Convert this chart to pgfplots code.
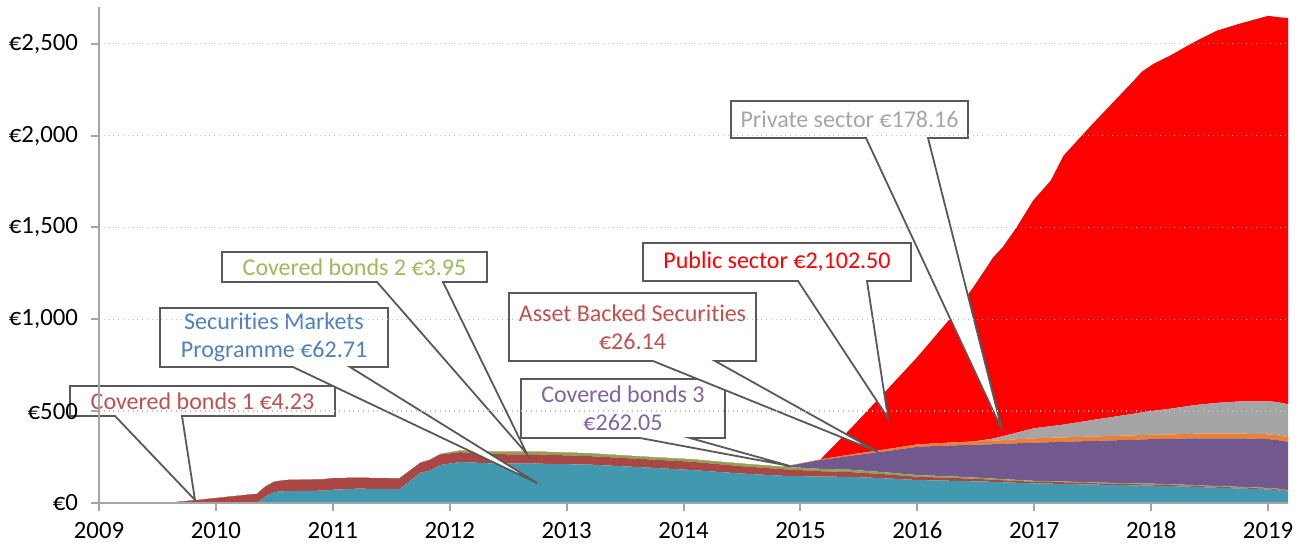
\documentclass[border=0pt]{standalone}
\usepackage{fontspec}
\setmainfont{Carlito}[Ligatures={NoCommon}]
\usepackage{pgfplots}
\pgfplotsset{compat=1.18}
\usepackage{pgfplotstable}

\definecolor{cSMP}{HTML}{4198AF}
\definecolor{cCB1}{HTML}{AA4643}
\definecolor{cCB2}{HTML}{89A54E}
\definecolor{cCB3}{HTML}{71588F}
\definecolor{cABS}{HTML}{EE8035}
\definecolor{cPriv}{HTML}{A5A5A5}
\definecolor{cPub}{HTML}{FF0000}
\definecolor{tCB1}{HTML}{C0504D}
\definecolor{tSMP}{HTML}{4F81BD}
\definecolor{tCB2}{HTML}{9BBB59}
\definecolor{tCB3}{HTML}{8064A2}
\definecolor{tPriv}{HTML}{A6A6A6}
\definecolor{bordergray}{HTML}{595959}
\definecolor{axgray}{HTML}{A6A6A6}
\definecolor{gridgray}{HTML}{BFBFBF}

\newcommand{\lblfont}{\fontsize{12}{14}\selectfont}
\newcommand{\tickfont}{\fontsize{12.4}{14}\selectfont}

\pgfplotsset{
  layers/labelsontop/.define layer set={
    axis background,axis grid,axis ticks,axis lines,pre main,main,axis tick labels,axis descriptions,axis foreground
  }{},
}

% callout in reference pixel coordinates: x-left, y-top, x-right, y-bottom, base1, base2, tipx, tipy, text
\newcommand{\callout}[9]{%
\draw[draw=bordergray, fill=white, line width=0.9pt, line join=miter]
 (#1,#2) -- (#3,#2) -- (#3,#4) -- (#6,#4) -- (#7,#8) -- (#5,#4) -- (#1,#4) -- cycle
 ({(#1+#3)/2},{(#2+#4)/2})
 node[font=\lblfont, align=center, inner sep=0pt, draw=none, fill=none] {#9};}

\pgfplotstableread{
yr smp cb1 cb2 cb3 abs cspp pspp
2009.00 0 0 0 0 0 0 0
2009.58 0 0 0 0 0 0 0
2009.84 0 16 0 0 0 0 0
2010.32 0 48 0 0 0 0 0
2010.35 0 49 0 0 0 0 0
2010.42 35 53 0 0 0 0 0
2010.50 60 56 0 0 0 0 0
2010.60 65 60 0 0 0 0 0
2010.92 67 62 0 0 0 0 0
2011.00 72 63 0 0 0 0 0
2011.20 78 59 0 0 0 0 0
2011.57 76 58 0 0 0 0 0
2011.75 165 54 0 0 0 0 0
2011.83 176 58 1 0 0 0 0
2011.92 207 57 3 0 0 0 0
2012.09 223 54 8 0 0 0 0
2012.34 216 50 13 0 0 0 0
2012.77 214 50 15 0 0 0 0
2013.20 209 46 15 0 0 0 0
2013.63 195 45 13 0 0 0 0
2014.06 180 45 13 0 0 0 0
2014.48 161 40 14 0 0 0 0
2014.85 148 36 13 0 0 0 0
2015.00 146 33 13 22 1 0 0
2015.17 144 29 13 48 3 0 0
2015.43 142 26 13 76 7 0 142
2015.71 135 22 11 112 10 0 306
2016.00 125 18 9 154 13 0 476
2016.28 121 16 8 168 16 0 675
2016.48 118 14 7 178 18 0 841
2016.65 115 12 6 187 19 12 988
2016.73 113 11 6 192 20 22 1029
2016.85 110 10 6 199 22 36 1119
2016.99 107 9 5 207 24 54 1241
2017.14 105 9 5 212 24 63 1337
2017.25 104 9 4 216 24 70 1464
2017.50 100 8 4 226 24 90 1613
2017.85 96 7 4 237 24 118 1813
2017.92 95 7 4 240 24 124 1854
2018.02 94 7 4 243 24 130 1889
2018.16 92 6 4 247 24 140 1922
2018.36 88 6 4 254 25 155 1975
2018.56 83 5 4 260 26 167 2026
2018.76 79 5 4 264 26 175 2057
2019.00 74 4 4 266 26 180 2098
2019.08 70 4 4 265 26 180 2096
2019.17 62.71 4.23 3.95 262.05 26.14 178.16 2102.50
}\data

\begin{document}
\begin{tikzpicture}
\begin{axis}[
  name=ax,
  set layers=labelsontop,
  scale only axis,
  width=594.5pt, height=248pt,
  xmin=2009, xmax=2019.17,
  ymin=0, ymax=2700,
  stack plots=y,
  area style,
  axis x line*=bottom, axis y line*=left,
  axis line style={axgray, line width=1pt},
  xtick={2009,2010,2011,2012,2013,2014,2015,2016,2017,2018,2019},
  xticklabels={2009,2010,2011,2012,2013,2014,2015,2016,2017,2018,2019},
  ytick={0,500,1000,1500,2000,2500},
  yticklabels={€0,€500,{€1,000},{€1,500},{€2,000},{€2,500}},
  tick align=outside,
  major tick length=4pt,
  tick style={axgray, line width=1pt},
  ymajorgrids,
  major grid style={gridgray, dotted, line width=0.75pt},
  ticklabel style={font=\tickfont, text=black},
  yticklabel style={xshift=-3pt},
  xticklabel style={anchor=north, text height=8.2pt, text depth=0pt, inner sep=0pt, yshift=-5.5pt},
  clip=false,
]
\addplot[fill=cSMP, draw=none] table[x=yr, y=smp] {\data} \closedcycle;
\addplot[fill=cCB1, draw=none] table[x=yr, y=cb1] {\data} \closedcycle;
\addplot[fill=cCB2, draw=none] table[x=yr, y=cb2] {\data} \closedcycle;
\addplot[fill=cCB3, draw=none] table[x=yr, y=cb3] {\data} \closedcycle;
\addplot[fill=cABS, draw=none] table[x=yr, y=abs] {\data} \closedcycle;
\addplot[fill=cPriv, draw=none] table[x=yr, y=cspp] {\data} \closedcycle;
\addplot[fill=cPub, draw=none] table[x=yr, y=pspp] {\data} \closedcycle;
\end{axis}
% callouts, in the reference's pixel grid (origin at the picture's top left)
\begin{pgfonlayer}{main}
\begin{scope}[shift={([xshift=-49.5pt,yshift=3.5pt]ax.north west)}, x=0.5pt, y=-0.5pt]
\callout{70}{386}{335}{416}{115}{182}{195}{500}{\textcolor{tCB1}{Covered bonds 1 €4.23}}
\callout{160}{308}{388}{367}{293}{350}{537}{483}{\textcolor{tSMP}{Securities Markets}\\\textcolor{tSMP}{Programme €62.71}}
\callout{222}{252}{487}{282}{377}{443}{527}{454}{\textcolor{tCB2}{Covered bonds 2 €3.95}}
\callout{521}{379}{725}{438}{640}{690}{790}{466}{\textcolor{tCB3}{Covered bonds 3}\\\textcolor{tCB3}{€262.05}}
\callout{509}{293}{756}{361}{653}{715}{878}{452}{\textcolor{tCB1}{Asset Backed Securities}\\\textcolor{tCB1}{€26.14}}
\callout{643}{243}{911}{281}{798}{867}{888}{418}{\textcolor{cPub}{Public sector €2,102.50}}
\callout{731}{101}{968}{138}{866}{928}{1002}{430}{\textcolor{tPriv}{Private sector €178.16}}
\end{scope}
\end{pgfonlayer}
\pgfresetboundingbox
\path[use as bounding box] ([xshift=-49.5pt,yshift=-21.5pt]ax.south west) rectangle ([xshift=9pt,yshift=3.5pt]ax.north east);
\end{tikzpicture}
\end{document}
